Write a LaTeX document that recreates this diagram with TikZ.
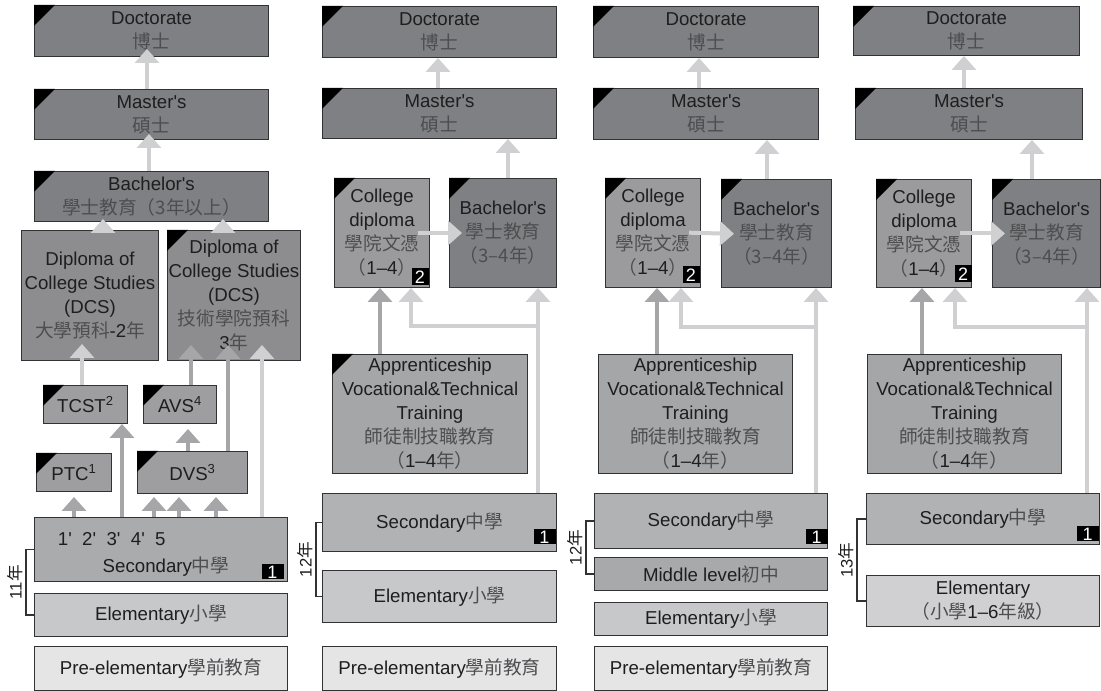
\documentclass[tikz,border=0pt]{standalone}
\usepackage{fontspec}
\setmainfont{Liberation Sans}
\newfontfamily\cjk{Noto Sans CJK TC}
\usetikzlibrary{arrows.meta,calc}

\definecolor{txtdark}{RGB}{30,30,30}
\definecolor{zhgray}{RGB}{78,78,80}
\definecolor{rimgray}{RGB}{50,50,52}
\definecolor{degree}{RGB}{127,128,132}
\definecolor{dcsfill}{RGB}{141,141,143}
\definecolor{smallfill}{RGB}{158,158,160}
\definecolor{dipfill}{RGB}{155,155,157}
\definecolor{appfill}{RGB}{165,166,168}
\definecolor{secfill}{RGB}{170,171,173}
\definecolor{secfillb}{RGB}{177,178,180}
\definecolor{midfill}{RGB}{168,169,171}
\definecolor{elemfill}{RGB}{199,200,202}
\definecolor{elemfillb}{RGB}{208,208,210}
\definecolor{prefill}{RGB}{229,229,230}
\definecolor{arrlight}{RGB}{208,208,210}
\definecolor{arrmid}{RGB}{166,166,168}

\newcommand{\zht}[1]{{\cjk\color{zhgray}#1}}
\newcommand{\ap}{\textquotesingle}

\tikzset{every picture/.style={line width=0.75pt}}
\tikzset{
  stage/.style 2 args={draw=rimgray, anchor=north west, inner sep=0pt, align=center,
    minimum width=#1*0.75pt, minimum height=#2*0.75pt, text=txtdark,
    font=\fontsize{14}{18}\selectfont},
  lt/.style={draw=arrlight, line width=3pt, -{Triangle[width=18pt,length=10.5pt]}},
  md/.style={lt, draw=arrmid},
  tag/.style={fill=black, text=white, anchor=south east, inner sep=0pt,
    minimum width=16.5pt, minimum height=11.25pt, font=\fontsize{13.5}{13.5}\selectfont},
  tagb/.style={tag, minimum width=12.75pt, minimum height=12.75pt},
  brace/.style={draw=rimgray, line width=0.9pt},
  yrs/.style={rotate=90, anchor=south, inner sep=2pt, text=txtdark,
    font=\fontsize{12.5}{15}\selectfont}
}

\begin{document}
\begin{tikzpicture}[x=0.75pt,y=0.75pt,yscale=-1,xscale=1]
\useasboundingbox (0,0) rectangle (1101,691);

% Column 1
\node[stage={234}{51}, fill=degree] (doc1) at (34,5) {Doctorate\\\zht{博士}};
\node[stage={234}{50}, fill=degree] (mas1) at (34,89) {Master\ap s\\\zht{碩士}};
\node[stage={234}{50}, fill=degree] (bac1) at (34,171) {Bachelor\ap s\\\zht{學士教育（3年以上）}};
\node[stage={137}{130}, fill=dcsfill] (dcs1) at (21,230) {Diploma of\\College Studies\\(DCS)\\\zht{大學預科}-2\zht{年}};
\node[stage={133}{130}, fill=dcsfill] (dcs2) at (167,230) {Diploma of\\College Studies\\(DCS)\\\zht{技術學院預科}\\3\zht{年}};
\node[stage={84}{38}, fill=smallfill] (tcst1) at (43,385) {TCST\textsuperscript{2}};
\node[stage={73}{38}, fill=smallfill] (avs1) at (143,385) {AVS\textsuperscript{4}};
\node[stage={75}{38}, fill=smallfill] (ptc1) at (36,453) {PTC\textsuperscript{1}};
\node[stage={110}{42}, fill=smallfill] (dvs1) at (137,451) {DVS\textsuperscript{3}};
\node[stage={253}{64}, fill=secfill] (sec1) at (34,517) {};
\node[anchor=base west, text=txtdark, font=\fontsize{14}{18}\selectfont] (nums1) at ($(sec1.north west)+(19,29)$) {1\ap\ \ 2\ap\ \ 3\ap\ \ 4\ap\ \ 5};
\node[anchor=base, text=txtdark, font=\fontsize{14}{18}\selectfont] (sect1) at ($(sec1.south)+(5,-9)$) {Secondary\zht{中學}};
\node[tag] (no1a) at ($(sec1.south east)+(-4,-2)$) {1};
\node[stage={253}{43}, fill=elemfill] (elem1) at (34,593) {Elementary\zht{小學}};
\node[stage={253}{44}, fill=prefill] (pre1) at (34,646) {Pre-elementary\zht{學前教育}};
\draw[brace] (sec1.west) -- ++(-8,0) |- (elem1.west);
\node[yrs] (yr1) at ($(sec1.west)!0.5!(elem1.west)+(-8,0)$) {11{\cjk 年}};

% Column 2
\node[stage={234}{51}, fill=degree] (doc2) at (322,6) {Doctorate\\\zht{博士}};
\node[stage={234}{50}, fill=degree] (mas2) at (322,88) {Master\ap s\\\zht{碩士}};
\node[stage={95}{109}, fill=dipfill] (cdip2) at (334,178) {College\\diploma\\\zht{學院文憑}\\\zht{（}1–4\zht{）}};
\node[stage={107}{109}, fill=degree] (bac2) at (449,178) {Bachelor\ap s\\\zht{學士教育}\\\zht{（3–4年）}};
\node[tagb] (no2b) at ($(cdip2.south east)+(-1,-2)$) {2};
\node[stage={195}{119}, fill=appfill] (app2) at (332,354) {Apprenticeship\\Vocational\&Technical\\Training\\\zht{師徒制技職教育}\\\zht{（}1–4\zht{年）}};
\node[stage={234}{58}, fill=secfillb] (sec2) at (322,493) {Secondary\zht{中學}};
\node[tag] (no2a) at ($(sec2.south east)+(-1,-7)$) {1};
\node[stage={234}{52}, fill=elemfill] (elem2) at (322,570) {Elementary\zht{小學}};
\node[stage={234}{44}, fill=prefill] (pre2) at (322,646) {Pre-elementary\zht{學前教育}};
\draw[brace] (sec2.west) -- ++(-6,0) |- (elem2.west);
\node[yrs] (yr2) at ($(sec2.west)!0.5!(elem2.west)+(-6,0)$) {12{\cjk 年}};

% Column 3
\node[stage={225}{51}, fill=degree] (doc3) at (593,6) {Doctorate\\\zht{博士}};
\node[stage={225}{51}, fill=degree] (mas3) at (593,88) {Master\ap s\\\zht{碩士}};
\node[stage={95}{109}, fill=dipfill] (cdip3) at (605,178) {College\\diploma\\\zht{學院文憑}\\\zht{（}1–4\zht{）}};
\node[stage={110}{108}, fill=degree] (bac3) at (721,179) {Bachelor\ap s\\\zht{學士教育}\\\zht{（3–4年）}};
\node[tagb] (no3b) at ($(cdip3.south east)+(-1,-4)$) {2};
\node[stage={194}{119}, fill=appfill] (app3) at (598,354) {Apprenticeship\\Vocational\&Technical\\Training\\\zht{師徒制技職教育}\\\zht{（}1–4\zht{年）}};
\node[stage={233}{55}, fill=secfillb] (sec3) at (594,493) {Secondary\zht{中學}};
\node[tag] (no3a) at ($(sec3.south east)+(0,-4)$) {1};
\node[stage={233}{33}, fill=midfill] (mid3) at (594,557) {Middle level\zht{初中}};
\node[stage={233}{33}, fill=elemfill] (elem3) at (594,602) {Elementary\zht{小學}};
\node[stage={233}{44}, fill=prefill] (pre3) at (594,646) {Pre-elementary\zht{學前教育}};
\draw[brace] (sec3.west) -- ++(-8,0) |- (mid3.west);
\node[yrs] (yr3) at ($(sec3.west)!0.5!(mid3.west)+(-8,0)$) {12{\cjk 年}};

% Column 4
\node[stage={226}{49}, fill=degree] (doc4) at (853,6) {Doctorate\\\zht{博士}};
\node[stage={227}{51}, fill=degree] (mas4) at (855,88) {Master\ap s\\\zht{碩士}};
\node[stage={95}{108}, fill=dipfill] (cdip4) at (876,179) {College\\diploma\\\zht{學院文憑}\\\zht{（}1–4\zht{）}};
\node[stage={108}{108}, fill=degree] (bac4) at (992,179) {Bachelor\ap s\\\zht{學士教育}\\\zht{（3–4年）}};
\node[tagb] (no4b) at ($(cdip4.south east)+(0,-5)$) {2};
\node[stage={194}{119}, fill=appfill] (app4) at (867,354) {Apprenticeship\\Vocational\&Technical\\Training\\\zht{師徒制技職教育}\\\zht{（}1–4\zht{年）}};
\node[stage={233}{51}, fill=secfillb] (sec4) at (866,493) {Secondary\zht{中學}};
\node[tag] (no4a) at ($(sec4.south east)+(-1,-3)$) {1};
\node[stage={233}{51}, fill=elemfillb] (elem4) at (866,575) {Elementary\\\zht{（小學}1–6\zht{年級）}};
\draw[brace] (sec4.west) -- ++(-9,0) |- (elem4.west);
\node[yrs] (yr4) at ($(sec4.west)!0.5!(elem4.west)+(-9,0)$) {13{\cjk 年}};

% corner marks
\foreach \b in {doc1,mas1,bac1,dcs2,tcst1,avs1,ptc1,dvs1,doc2,mas2,cdip2,bac2,app2,doc3,mas3,cdip3,bac3,doc4,mas4,cdip4,bac4}
  \fill (\b.north west) -- ++(21,0) -- ++(-21,21) -- cycle;

% arrows, column 1
\draw[lt, shorten >=-6pt] (mas1.north -| 147,0) -- (doc1.south -| 147,0);
\draw[lt, shorten >=-4.5pt] (bac1.north -| 149,0) -- (mas1.south -| 149,0);
\draw[lt, shorten >=-2.25pt] (dcs1.north -| 103,0) -- (bac1.south -| 103,0);
\draw[lt, shorten >=-2.25pt] (dcs2.north -| 223,0) -- (bac1.south -| 223,0);
\draw[lt, shorten >=-12.75pt] (tcst1.north -| 82,0) -- (dcs1.south -| 82,0);
\draw[md, shorten >=-12pt] (avs1.north -| 191,0) -- (dcs2.south -| 191,0);
\draw[md, shorten >=-12pt] (dvs1.north -| 228,0) -- (dcs2.south -| 228,0);
\draw[lt, shorten >=-12pt] (sec1.north -| 262,0) -- (dcs2.south -| 262,0);
\draw[md] (sec1.north -| 122,0) -- (tcst1.south -| 122,0);
\draw[md, shorten >=3.75pt] (dvs1.north -| 188,0) -- (avs1.south -| 188,0);
\draw[md, shorten >=3.75pt] (sec1.north -| 74,0) -- (ptc1.south -| 74,0);
\foreach \xa in {154,179,216}
  \draw[md, shorten >=2.25pt] (sec1.north -| \xa,0) -- (dvs1.south -| \xa,0);

% arrows, column 2
\draw[lt] (mas2.north -| 438,0) -- (doc2.south -| 438,0);
\draw[lt] (bac2.north -| 508,0) -- (mas2.south -| 508,0);
\draw[lt, shorten <=-9pt, shorten >=-9.75pt] (cdip2.east) -- (bac2.west);
\draw[md] (app2.north -| 380,0) -- (cdip2.south -| 380,0);
\draw[lt] (sec2.north -| 538,0) -- (bac2.south -| 538,0);
\coordinate (j2) at (538,326);
\draw[lt] (j2) -| (cdip2.south -| 411,0);

% arrows, column 3
\draw[lt] (mas3.north -| 699,0) -- (doc3.south -| 699,0);
\draw[lt] (bac3.north -| 767,0) -- (mas3.south -| 767,0);
\draw[lt, shorten <=-9pt, shorten >=-9.75pt] (cdip3.east) -- (bac3.west);
\draw[md] (app3.north -| 657,0) -- (cdip3.south -| 657,0);
\draw[lt] (sec3.north -| 816,0) -- (bac3.south -| 816,0);
\coordinate (j3) at (816,327);
\draw[lt] (j3) -| (cdip3.south -| 681,0);

% arrows, column 4
\draw[lt] (mas4.north -| 964,0) -- (doc4.south -| 964,0);
\draw[lt] (bac4.north -| 1032,0) -- (mas4.south -| 1032,0);
\draw[lt, shorten <=-9pt, shorten >=-9.75pt] (cdip4.east) -- (bac4.west);
\draw[md] (app4.north -| 922,0) -- (cdip4.south -| 922,0);
\draw[lt] (sec4.north -| 1087,0) -- (bac4.south -| 1087,0);
\coordinate (j4) at (1087,327);
\draw[lt] (j4) -| (cdip4.south -| 955,0);

\end{tikzpicture}
\end{document}
